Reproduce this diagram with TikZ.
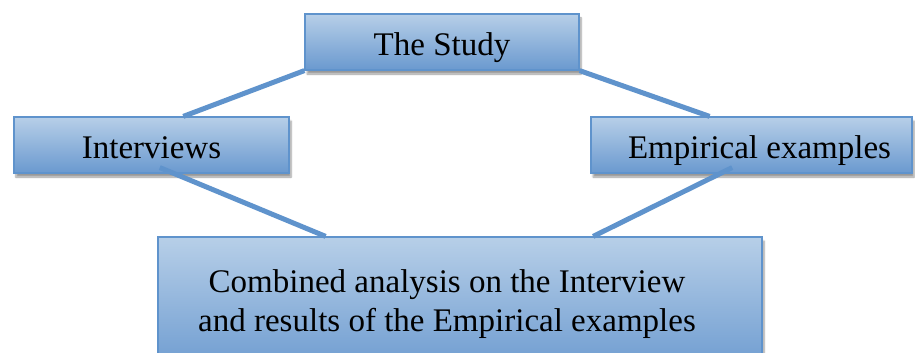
\documentclass[tikz,border=0pt]{standalone}
\usepackage{fontspec}
\setmainfont{Liberation Serif}
\usetikzlibrary{shadows.blur,calc}
\definecolor{boxtop}{HTML}{B7CFE8}
\definecolor{boxbot}{HTML}{6A99CF}
\definecolor{boxline}{HTML}{5F93CC}
\definecolor{conn}{HTML}{5F93CC}
\tikzset{
  box/.style={draw=boxline, line width=1.2pt, top color=boxtop, bottom color=boxbot,
    blur shadow={shadow xshift=2pt, shadow yshift=-4pt, shadow blur steps=6, shadow opacity=40},
    inner sep=0pt, font=\fontsize{33}{39}\selectfont, align=center, text=black},
  conn/.style={draw=conn, line width=5pt}
}
\begin{document}
\begin{tikzpicture}[x=1pt,y=-1pt]
\useasboundingbox (0,0) rectangle (915,353);
\clip (0,0) rectangle (915,353);
\node[box, minimum width=274pt, minimum height=56pt] (study) at (442,42) {};
\node[box, minimum width=275pt, minimum height=56pt] (int) at (151.5,145) {};
\node[box, minimum width=321pt, minimum height=56pt] (emp) at (751.5,145) {};
\node[box, minimum width=604pt, minimum height=140pt] (comb) at (460,307) {};
\node[font=\fontsize{33}{39}\selectfont, anchor=base] (studyt) at ([yshift=-14pt]study.center) {The Study};
\node[font=\fontsize{33}{39}\selectfont, anchor=base] (intt) at ([yshift=-13pt]int.center) {Interviews};
\node[font=\fontsize{33}{39}\selectfont, anchor=base] (empt) at ([xshift=8pt,yshift=-13pt]emp.center) {Empirical examples};
\node[font=\fontsize{33}{39}\selectfont, anchor=base] (combt1) at (447,292) {Combined analysis on the Interview};
\node[font=\fontsize{33}{39}\selectfont, anchor=base] (combt2) at (447,331) {and results of the Empirical examples};
\draw[conn] (study.south west) -- ($(int.north west)!0.615!(int.north east)$);
\draw[conn] (study.south east) -- ($(emp.north west)!0.37!(emp.north east)$);
\draw[conn] ($(int.south west)!0.53!(int.south east)+(0,-6)$) -- ($(comb.north west)!0.278!(comb.north east)$);
\draw[conn] ($(emp.south west)!0.44!(emp.south east)+(0,-6)$) -- ($(comb.north west)!0.72!(comb.north east)$);
\end{tikzpicture}
\end{document}
